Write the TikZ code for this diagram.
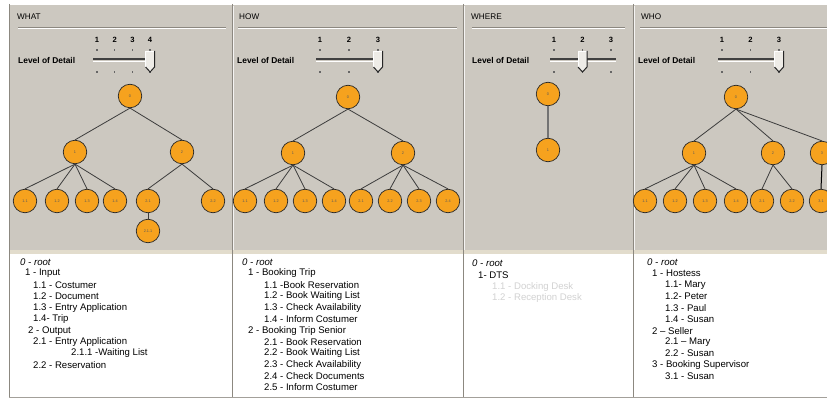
\documentclass[tikz,border=0pt]{standalone}
\usepackage{fontspec}
\setmainfont{Liberation Sans}
\definecolor{panelgray}{RGB}{204,200,192}
\definecolor{darkedge}{RGB}{140,136,128}
\definecolor{nodeorange}{RGB}{246,162,30}
\definecolor{edgegray}{RGB}{60,60,60}
\definecolor{beigestrip}{RGB}{226,220,204}
\definecolor{faint}{RGB}{210,210,210}
\definecolor{thumbfill}{RGB}{238,236,231}
\newcommand\LODslider[5]{%
  % #1 first x, #2 spacing, #3 count, #4 thumb index, #5 label x
  \node[lvl] at (#5,60) {Level of Detail};
  \pgfmathsetmacro\lastx{#1+(#3-1)*#2}
  \pgfmathsetmacro\thx{#1+(#4-1)*#2}
  \draw[black!75, line width=1.4pt] (#1-4,59.2) -- (\lastx+5,59.2);
  \draw[white, line width=1pt] (#1-4,61.2) -- (\lastx+5,61.2);
  \foreach \i in {1,...,#3}{%
    \pgfmathsetmacro\xx{#1+(\i-1)*#2}
    \node[num] at (\xx,40) {\i};
    \fill[black!60] (\xx-0.7,48.8) rectangle (\xx+0.7,51.2);
    \fill[black!60] (\xx-0.7,70.8) rectangle (\xx+0.7,73.2);
  }
  \fill[thumbfill] (\thx-4.5,51) -- (\thx+4.5,51) -- (\thx+4.5,67) -- (\thx,72) -- (\thx-4.5,67) -- cycle;
  \draw[white, line width=0.7pt] (\thx-4.5,67) -- (\thx-4.5,51) -- (\thx+4.5,51);
  \draw[black!85, line width=1pt] (\thx+4.5,51) -- (\thx+4.5,67) -- (\thx,72) -- (\thx-4.5,67);
}
\begin{document}
\begin{tikzpicture}[x=1pt,y=-1pt,
  tnode/.style={circle, draw=black!85, line width=0.7pt, fill=nodeorange,
    minimum size=23.5pt, inner sep=0pt, font=\fontsize{3.8}{4}\selectfont, text=black!65},
  tedge/.style={draw=edgegray, line width=0.8pt},
  lvl/.style={font=\bfseries\fontsize{8.4}{9}\selectfont, anchor=west, inner sep=0pt},
  ttl/.style={font=\fontsize{8.2}{9}\selectfont, anchor=west, inner sep=0pt},
  num/.style={font=\bfseries\fontsize{7.6}{8}\selectfont, inner sep=0pt},
  txt/.style={font=\fontsize{9.6}{11}\selectfont, anchor=west, inner sep=0pt},
  roottxt/.style={txt, font=\itshape\fontsize{9.6}{11}\selectfont},
  fainttxt/.style={txt, text=faint}]
\useasboundingbox (0,0) rectangle (827,398);
\clip (0,0) rectangle (827,398);
% backgrounds
\fill[white] (0,0) rectangle (827,398);
\fill[panelgray] (9,4) rectangle (827,250);
\fill[beigestrip] (9,250) rectangle (827,253.5);
\draw[white, line width=0.8pt] (9,4.5) -- (827,4.5);
\draw[darkedge, line width=0.8pt] (9,4) -- (9,398);
\foreach \px in {232,463,633}{
  \draw[darkedge, line width=0.9pt] (\px,4) -- (\px,398);
  \draw[white!80!panelgray, line width=0.6pt] (\px+1.3,6) -- (\px+1.3,250);
}
\draw[darkedge!80, line width=0.6pt] (9,397.5) -- (827,397.5);
% titles and separators
\node[ttl] (tWhat) at (17,17) {WHAT};
\node[ttl] (tHow) at (239,17) {HOW};
\node[ttl] (tWhere) at (471,17) {WHERE};
\node[ttl] (tWho) at (641,17) {WHO};
\foreach \a/\b in {18/226, 238/457, 472/625, 640/827}{
  \draw[darkedge, line width=0.9pt] (\a,27) -- (\b,27);
  \draw[white, line width=0.6pt] (\a,28.4) -- (\b,28.4);
}
% sliders
\LODslider{97}{17.7}{4}{4}{18}
\LODslider{320}{29}{3}{3}{237}
\LODslider{554}{28.5}{3}{2}{472}
\LODslider{722}{28.5}{3}{3}{638}
% ---------- WHAT tree
\node[tnode] (w0) at (130,96) {0};
\node[tnode] (w1) at (75,152) {1};
\node[tnode] (w2) at (182,152) {2};
\node[tnode] (w11) at (25,201) {1.1};
\node[tnode] (w12) at (57,201) {1.2};
\node[tnode] (w13) at (87,201) {1.3};
\node[tnode] (w14) at (115,201) {1.4};
\node[tnode] (w21) at (148,201) {2.1};
\node[tnode] (w22) at (213,201) {2.2};
\node[tnode] (w211) at (148,231) {2.1.1};
% ---------- HOW tree
\node[tnode] (h0) at (348,97) {0};
\node[tnode] (h1) at (293,153) {1};
\node[tnode] (h2) at (403,153) {2};
\node[tnode] (h11) at (245,201) {1.1};
\node[tnode] (h12) at (276,201) {1.2};
\node[tnode] (h13) at (305,201) {1.3};
\node[tnode] (h14) at (334,201) {1.4};
\node[tnode] (h21) at (361,201) {2.1};
\node[tnode] (h22) at (390,201) {2.2};
\node[tnode] (h23) at (419,201) {2.3};
\node[tnode] (h24) at (448,201) {2.4};
% ---------- WHERE tree
\node[tnode] (r0) at (548,94) {0};
\node[tnode] (r1) at (548,150) {1};
% ---------- WHO tree
\node[tnode] (o0) at (736,97) {0};
\node[tnode] (o1) at (694,153) {1};
\node[tnode] (o2) at (773,153) {2};
\node[tnode] (o3) at (822,153) {3};
\node[tnode] (o11) at (645,201) {1.1};
\node[tnode] (o12) at (675,201) {1.2};
\node[tnode] (o13) at (705,201) {1.3};
\node[tnode] (o14) at (736,201) {1.4};
\node[tnode] (o21) at (762,201) {2.1};
\node[tnode] (o22) at (792,201) {2.2};
\node[tnode] (o31) at (821,201) {3.1};
% ---------- edges
\foreach \p/\c in {w0/w1,w0/w2,w1/w11,w1/w12,w1/w13,w1/w14,w2/w21,w2/w22,w21/w211,
  h0/h1,h0/h2,h1/h11,h1/h12,h1/h13,h1/h14,h2/h21,h2/h22,h2/h23,h2/h24,
  o0/o1,o0/o2,o0/o3,o1/o11,o1/o12,o1/o13,o1/o14,o2/o21,o2/o22}{
  \draw[tedge] (\p.south) -- (\c.north);
}
\draw[black!55, line width=2pt] (r0.south) -- (r1.north);
\draw[black, line width=1pt] (o3.south) -- (o31.north);
% ---------- WHAT list
\node[roottxt] (lw0) at (20,262) {0 - root};
\node[txt] (lw1) at (25,273) {1 - Input};
\node[txt] (lw11) at (33,285) {1.1 - Costumer};
\node[txt] (lw12) at (33,296) {1.2 - Document};
\node[txt] (lw13) at (33,308) {1.3 - Entry Application};
\node[txt] (lw14) at (33,319) {1.4- Trip};
\node[txt] (lw2) at (28,331) {2 - Output};
\node[txt] (lw21) at (33,342) {2.1 - Entry Application};
\node[txt] (lw211) at (71,353) {2.1.1 -Waiting List};
\node[txt] (lw22) at (33,365) {2.2 - Reservation};
% ---------- HOW list
\node[roottxt] (lh0) at (242,262) {0 - root};
\node[txt] (lh1) at (248,273) {1 - Booking Trip};
\node[txt] (lh11) at (264,285) {1.1 -Book Reservation};
\node[txt] (lh12) at (264,296) {1.2 - Book Waiting List};
\node[txt] (lh13) at (264,308) {1.3 - Check Availability};
\node[txt] (lh14) at (264,319) {1.4 - Inform Costumer};
\node[txt] (lh2) at (248,331) {2 - Booking Trip Senior};
\node[txt] (lh21) at (264,342) {2.1 - Book Reservation};
\node[txt] (lh22) at (264,353) {2.2 - Book Waiting List};
\node[txt] (lh23) at (264,365) {2.3 - Check Availability};
\node[txt] (lh24) at (264,376) {2.4 - Check Documents};
\node[txt] (lh25) at (264,387) {2.5 - Inform Costumer};
% ---------- WHERE list
\node[roottxt] (lr0) at (472,263) {0 - root};
\node[txt] (lr1) at (478,275) {1- DTS};
\node[fainttxt] (lr11) at (492,287) {1.1 - Docking Desk};
\node[fainttxt] (lr12) at (492,298) {1.2 - Reception Desk};
% ---------- WHO list
\node[roottxt] (lo0) at (647,262) {0 - root};
\node[txt] (lo1) at (652,273) {1 - Hostess};
\node[txt] (lo11) at (665,285) {1.1- Mary};
\node[txt] (lo12) at (665,296) {1.2- Peter};
\node[txt] (lo13) at (665,308) {1.3 - Paul};
\node[txt] (lo14) at (665,319) {1.4 - Susan};
\node[txt] (lo2) at (652,331) {2 – Seller};
\node[txt] (lo21) at (665,342) {2.1 – Mary};
\node[txt] (lo22) at (665,353) {2.2 - Susan};
\node[txt] (lo3) at (652,365) {3 - Booking Supervisor};
\node[txt] (lo31) at (665,376) {3.1 - Susan};
\end{tikzpicture}
\end{document}
